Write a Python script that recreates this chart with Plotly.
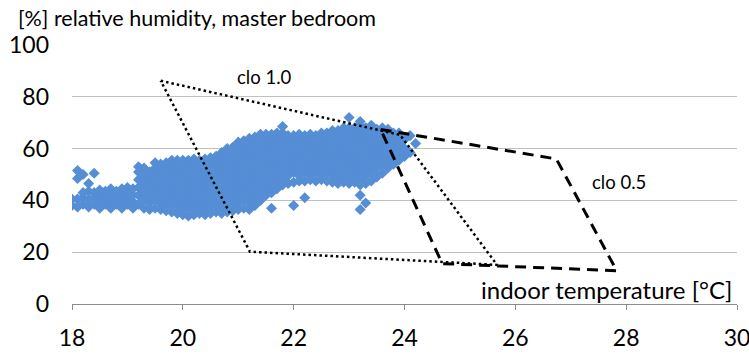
import plotly.graph_objects as go

# Indoor temperature columns (°C) and the relative humidity readings (%) logged at each
temps = [
    18.0, 18.1, 18.2, 18.3, 18.4, 18.5, 18.6, 18.7, 18.8, 18.9,
    19.0, 19.1, 19.2, 19.3, 19.4, 19.5, 19.6, 19.7, 19.8, 19.9,
    20.0, 20.1, 20.2, 20.3, 20.4, 20.5, 20.6, 20.7, 20.8, 20.9,
    21.0, 21.1, 21.2, 21.3, 21.4, 21.5, 21.6, 21.7, 21.8, 21.9,
    22.0, 22.1, 22.2, 22.3, 22.4, 22.5, 22.6, 22.7, 22.8, 22.9,
    23.0, 23.1, 23.2, 23.3, 23.4, 23.5, 23.6, 23.7, 23.8, 23.9,
    24.0, 24.1, 24.2,
]
rh_columns = [
    [38, 40.5],
    [37.5, 40.5, 48.5, 51.5],
    [38.5, 41, 43, 50],
    [37.5, 40.5, 43.5, 46.5],
    [38.5, 41, 43, 50.5],
    [37, 39.5, 42, 44],
    [38.5, 41, 43.5],
    [37, 39.5, 42, 44.5],
    [38.5, 41, 43.5],
    [37, 39.5, 42, 44.5],
    [38.5, 41, 43.5, 45],
    [37, 39.5, 42, 44.5],
    [38.5, 42, 45, 48, 51, 53],
    [37, 40.5, 43.5, 46.5, 49.5, 52.5],
    [36.5, 39, 42, 45, 48, 51],
    [37, 40.5, 43.5, 46.5, 49.5, 52.5, 54.5],
    [36.5, 39, 42, 45, 48, 51, 54],
    [36, 37.5, 40.5, 43.5, 46.5, 49.5, 52.5, 54.5],
    [35.5, 39, 42, 45, 48, 51, 54, 55.5],
    [35, 37.5, 40.5, 43.5, 46.5, 49.5, 52.5, 55.5],
    [34.5, 36, 39, 42, 45, 48, 51, 54, 55.5],
    [34, 37.5, 40.5, 43.5, 46.5, 49.5, 52.5, 55.5],
    [34.5, 36, 39, 42, 45, 48, 51, 54, 56],
    [35, 37.5, 40.5, 43.5, 46.5, 49.5, 52.5, 55.5],
    [34.5, 36, 39, 42, 45, 48, 51, 54, 56],
    [35, 37.5, 40.5, 43.5, 46.5, 49.5, 52.5, 55.5, 56.5],
    [35.5, 39, 42, 45, 48, 51, 54, 57],
    [35, 37.5, 40.5, 43.5, 46.5, 49.5, 52.5, 55.5, 58.5],
    [35.5, 39, 42, 45, 48, 51, 54, 57, 60],
    [36, 37.5, 40.5, 43.5, 46.5, 49.5, 52.5, 55.5, 58.5, 60.5],
    [36.5, 39, 42, 45, 48, 51, 54, 57, 60, 62.5],
    [37, 40.5, 43.5, 46.5, 49.5, 52.5, 55.5, 58.5, 61.5, 63],
    [36.5, 39, 42, 45, 48, 51, 54, 57, 60, 63, 64],
    [38, 40.5, 43.5, 46.5, 49.5, 52.5, 55.5, 58.5, 61.5, 64.5],
    [40, 42, 45, 48, 51, 54, 57, 60, 63, 65.5],
    [42, 43.5, 46.5, 49.5, 52.5, 55.5, 58.5, 61.5, 64.5, 65.5],
    [37, 43, 45, 48, 51, 54, 57, 60, 63, 65.5],
    [44.5, 46.5, 49.5, 52.5, 55.5, 58.5, 61.5, 64.5, 66],
    [46, 48, 51, 54, 57, 60, 63, 66, 68.5],
    [46.5, 49.5, 52.5, 55.5, 58.5, 61.5, 64.5, 65],
    [38, 47, 51, 54, 57, 60, 63, 65],
    [47.5, 49.5, 52.5, 55.5, 58.5, 61.5, 64.5, 65.5],
    [41, 47.5, 51, 54, 57, 60, 63, 65],
    [48, 49.5, 52.5, 55.5, 58.5, 61.5, 64.5, 65.5],
    [47.5, 51, 54, 57, 60, 63, 65],
    [48, 49.5, 52.5, 55.5, 58.5, 61.5, 64.5, 66],
    [47.5, 51, 54, 57, 60, 63, 66],
    [47, 49.5, 52.5, 55.5, 58.5, 61.5, 64.5, 67],
    [46.5, 48, 51, 54, 57, 60, 63, 66, 67],
    [47, 49.5, 52.5, 55.5, 58.5, 61.5, 64.5, 67.5, 68],
    [46.5, 48, 51, 54, 57, 60, 63, 66, 68, 72],
    [47, 49.5, 52.5, 55.5, 58.5, 61.5, 64.5, 67.5, 68],
    [36.5, 42, 46, 48, 51, 54, 57, 60, 63, 66, 69, 70.5],
    [39, 46.5, 49.5, 52.5, 55.5, 58.5, 61.5, 64.5, 67.5, 68],
    [47.5, 51, 54, 57, 60, 63, 66, 69],
    [49, 52.5, 55.5, 58.5, 61.5, 64.5, 67.5],
    [50.5, 54, 57, 60, 63, 66, 68],
    [52.5, 55.5, 58.5, 61.5, 64.5, 67.5],
    [54, 57, 60, 63, 66],
    [55.5, 58.5, 61.5, 64.5, 66],
    [57, 60, 63.5],
    [58.5, 65],
    [62],
]

# Comfort zone outlines (temperature °C, relative humidity %)
clo10_t = [19.6, 23.92, 25.67, 21.21, 19.6]
clo10_rh = [86.2, 65.3, 15.1, 20.2, 86.2]
clo05_t = [23.57, 26.74, 27.83, 24.68, 23.57]
clo05_rh = [67.4, 56.0, 12.8, 15.6, 67.4]

x_ticks = [18, 20, 22, 24, 26, 28, 30]
y_ticks = [0, 20, 40, 60, 80, 100]

FONT = "Lato, Carlito, Calibri, sans-serif"

pt_t = [t for t, col in zip(temps, rh_columns) for _ in col]
pt_rh = [v for col in rh_columns for v in col]

fig = go.Figure()
fig.add_trace(go.Scatter(
    x=pt_t, y=pt_rh, mode="markers",
    marker=dict(symbol="diamond", size=8.5, color="#558ED5", line=dict(width=0)),
    hoverinfo="skip", showlegend=False,
))
fig.add_trace(go.Scatter(
    x=clo10_t, y=clo10_rh, mode="lines",
    line=dict(color="black", width=2.5, dash="2.5px,3px"),
    hoverinfo="skip", showlegend=False,
))
fig.add_trace(go.Scatter(
    x=clo05_t, y=clo05_rh, mode="lines",
    line=dict(color="black", width=3, dash="11px,7px"),
    hoverinfo="skip", showlegend=False,
))

fig.update_layout(
    width=749, height=354,
    margin=dict(l=72, r=12, t=45, b=50, autoexpand=False),
    paper_bgcolor="white", plot_bgcolor="white",
    font=dict(family=FONT, color="black", size=22),
    xaxis=dict(
        range=[18, 30], tickvals=x_ticks, showgrid=False, zeroline=False,
        showline=True, linecolor="#8C8C8C", linewidth=1,
        ticks="outside", ticklen=5, tickcolor="#8C8C8C",
        tickfont=dict(size=23), ticklabelstandoff=8,
        ticklabeloverflow="allow", automargin=False, fixedrange=True,
    ),
    yaxis=dict(
        range=[0, 100], tickvals=y_ticks, showgrid=True, gridcolor="#C0C0C0",
        gridwidth=1, zeroline=False, showline=False, ticks="",
        tickfont=dict(size=23), ticklabelstandoff=22, automargin=False,
        fixedrange=True,
    ),
    annotations=[
        dict(text="[%] relative humidity, master bedroom", xref="paper", yref="paper",
             x=-0.084, y=1.106, xanchor="left", yanchor="middle", showarrow=False,
             font=dict(size=21.5)),
        dict(text="indoor temperature [°C]", xref="x", yref="y",
             x=29.95, y=5.6, xanchor="right", yanchor="middle", showarrow=False,
             font=dict(size=24)),
        dict(text="clo 1.0", xref="x", yref="y", x=21.48, y=87.5,
             showarrow=False, font=dict(size=18.5)),
        dict(text="clo 0.5", xref="x", yref="y", x=27.87, y=47.1,
             showarrow=False, font=dict(size=18.5)),
    ],
)

fig.write_html("out.html")
